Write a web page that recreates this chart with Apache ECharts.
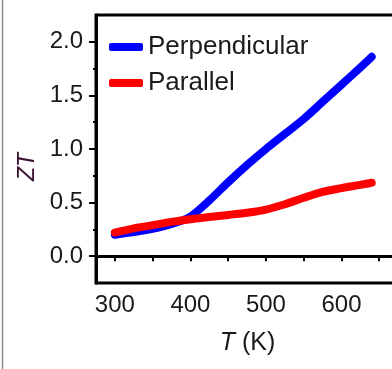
<!DOCTYPE html>
<html>
<head>
<meta charset="utf-8">
<script src="https://cdn.jsdelivr.net/npm/echarts@6/dist/echarts.min.js"></script>
<style>
  html, body { margin: 0; padding: 0; background: #fff; }
  #chart { width: 392px; height: 369px; }
</style>
</head>
<body>
<div id="chart"></div>
<script>
// temperature (K) and ZT values
var tempK = [300, 325, 350, 375, 400, 425, 450, 475, 500, 525, 550, 575, 600, 625, 640];
var ztPerpendicular = [0.20, 0.225, 0.255, 0.30, 0.37, 0.52, 0.69, 0.85, 1.00, 1.14, 1.28, 1.44, 1.60, 1.76, 1.86];
var ztParallel = [0.22, 0.26, 0.29, 0.32, 0.345, 0.365, 0.385, 0.405, 0.435, 0.485, 0.545, 0.60, 0.635, 0.665, 0.685];

var xTicks = [300, 350, 400, 450, 500, 550, 600, 650, 700];
var xLabels = [300, 400, 500, 600, 700];
var yLabels = [0, 0.5, 1, 1.5, 2];
var yMinorTicks = [0.25, 0.75, 1.25, 1.75];

function pairs(xs, ys) {
    var out = [];
    for (var i = 0; i < xs.length; i++) {
        out.push([xs[i], ys[i]]);
    }
    return out;
}

var chart = echarts.init(document.getElementById('chart'));

var font = 'Liberation Sans, Arial, sans-serif';

var option = {
    animation: false,
    grid: {
        left: 96, top: 15, bottom: 86, right: -25,
        outerBoundsMode: 'none',
        show: true, borderColor: '#000', borderWidth: 3
    },
    legend: {
        orient: 'vertical',
        left: 104, top: 29,
        itemWidth: 34, itemHeight: 8, itemGap: 10,
        icon: 'roundRect',
        textStyle: { fontFamily: font, fontSize: 26, color: '#1a1a1a' },
        data: ['Perpendicular', 'Parallel']
    },
    xAxis: {
        type: 'value',
        min: 275, max: 700, interval: 25,
        name: '{i|T} (K)',
        nameLocation: 'middle',
        nameGap: 48,
        nameTextStyle: {
            fontFamily: font, fontSize: 25, color: '#1a1a1a',
            padding: [0, 18, 0, 0],
            rich: { i: { fontFamily: font, fontSize: 25, fontStyle: 'italic', color: '#1a1a1a' } }
        },
        axisLine: { lineStyle: { color: '#000', width: 3 } },
        axisTick: { customValues: xTicks, length: 5, lineStyle: { color: '#000', width: 2 } },
        axisLabel: { customValues: xLabels, margin: 10, fontFamily: font, fontSize: 24, color: '#1a1a1a' },
        splitLine: { show: false }
    },
    yAxis: [{
        type: 'value',
        min: -0.25, max: 2.25, interval: 0.25,
        name: 'ZT',
        nameLocation: 'middle',
        nameGap: 56,
        nameTextStyle: {
            fontFamily: font, fontSize: 23, fontStyle: 'italic', color: '#3b1030',
            padding: [0, 36, 0, 0]
        },
        axisLine: { lineStyle: { color: '#000', width: 3 } },
        axisTick: { customValues: yLabels, length: 7, lineStyle: { color: '#000', width: 2 } },
        axisLabel: {
            customValues: yLabels, margin: 13,
            fontFamily: font, fontSize: 24, color: '#1a1a1a',
            formatter: function (v) { return v.toFixed(1); }
        },
        splitLine: { show: false }
    }, {
        type: 'value',
        position: 'left',
        min: -0.25, max: 2.25, interval: 0.25,
        axisLine: { show: false },
        axisTick: { customValues: yMinorTicks, length: 3, lineStyle: { color: '#000', width: 2 } },
        axisLabel: { show: false },
        splitLine: { show: false }
    }],
    graphic: [{
        type: 'line',
        shape: { x1: 2.5, y1: 0, x2: 2.5, y2: 369 },
        style: { stroke: '#8a8a8a', lineWidth: 1.5 }
    }],
    series: [{
        name: 'Perpendicular',
        type: 'line',
        data: pairs(tempK, ztPerpendicular),
        smooth: 0.3,
        showSymbol: false,
        color: '#0000ff',
        lineStyle: { width: 8, cap: 'round' }
    }, {
        name: 'Parallel',
        type: 'line',
        data: pairs(tempK, ztParallel),
        smooth: 0.3,
        showSymbol: false,
        color: '#ff0000',
        lineStyle: { width: 8, cap: 'round' }
    }]
};

chart.setOption(option);
</script>
</body>
</html>
